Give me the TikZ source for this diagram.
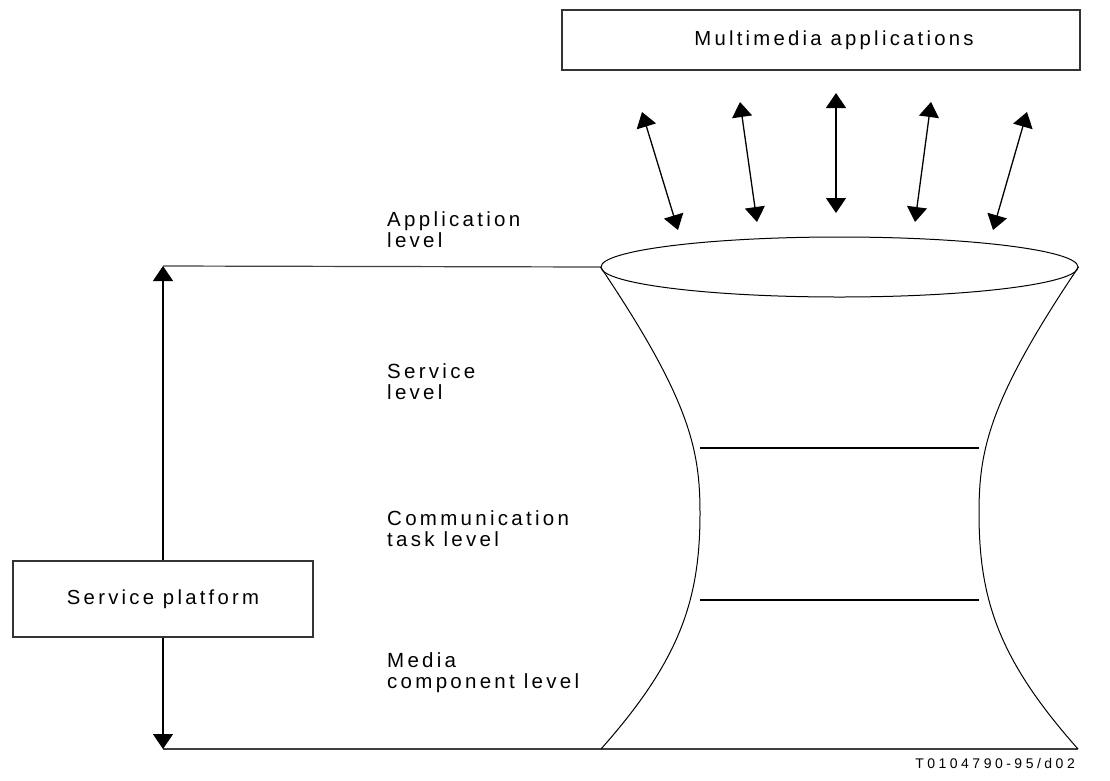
\documentclass[tikz,border=0pt]{standalone}
\usepackage{fontspec}
\setmainfont{Liberation Sans}[LetterSpace=16]
\newfontfamily\tagfont{Liberation Sans}[LetterSpace=25]
\usetikzlibrary{arrows.meta,shapes.geometric}
\begin{document}
\begin{tikzpicture}[x=1pt,y=-1pt,
  box/.style={draw=black!80,line width=1.2pt,inner sep=0pt,font=\fontsize{20.3}{22}\selectfont},
  lbl/.style={anchor=north west,inner sep=0pt,align=left,font=\fontsize{20.5}{21.5}\selectfont},
  dbl/.style={line width=1.3pt,{Triangle[length=15pt,width=20pt]}-{Triangle[length=15pt,width=20pt]}},
  thin/.style={draw=black!75,line width=1.2pt},
  side/.style={draw=black,line width=1pt},
  lev/.style={draw=black,line width=2pt}]
\useasboundingbox (0,0) rectangle (1110,780);
\fill[white] (0,0) rectangle (1110,780);
% boxes
\node[box,minimum width=518pt,minimum height=60pt] (mm) at (821,40) {\hspace*{26pt}Multimedia applications};
\node[box,minimum width=300pt,minimum height=76pt,fill=white] (sp) at (163,599) {Service platform};
% ellipse
\node[draw=black,line width=1pt,ellipse,minimum width=477pt,minimum height=60pt,inner sep=0pt] (el) at (839.5,267) {};
% coordinates
\coordinate (lt) at (163,266);
\coordinate (lb) at (163,749);
\coordinate (bl) at (601,749);
\coordinate (br) at (1078,749);
\coordinate (lw) at (700,513);
\coordinate (rw) at (979,513);
\coordinate (l1a) at (700,448); \coordinate (l1b) at (979,448);
\coordinate (l2a) at (700,600); \coordinate (l2b) at (979,600);
% horizontal lines
\draw[thin] (lt) -- (el.west);
\draw[thin] (lb) -- (br);
% hourglass sides
\draw[side] (el.west) .. controls (690,400) and (700,450) .. (lw)
  .. controls (700,600) and (680,660) .. (bl);
\draw[side] (el.east) .. controls (989,400) and (979,450) .. (rw)
  .. controls (979,600) and (999,660) .. (br);
\draw[lev] (l1a) -- (l1b);
\draw[lev] (l2a) -- (l2b);
% vertical arrow
\draw[line width=1.3pt,-{Triangle[length=15pt,width=20pt]}] (sp.north) -- (lt);
\draw[line width=1.3pt,-{Triangle[length=15pt,width=20pt]}] (sp.south) -- (lb);
% slanted arrows
\coordinate (a1t) at (642,112); \coordinate (a1b) at (678,230);
\coordinate (a2t) at (740,102); \coordinate (a2b) at (757,222);
\coordinate (a3t) at (836,93);  \coordinate (a3b) at (836,213);
\coordinate (a4t) at (931,102); \coordinate (a4b) at (915,222);
\coordinate (a5t) at (1027,112); \coordinate (a5b) at (993,230);
\draw[dbl] (a1t) -- (a1b);
\draw[dbl] (a2t) -- (a2b);
\draw[dbl] (a3t) -- (a3b);
\draw[dbl] (a4t) -- (a4b);
\draw[dbl] (a5t) -- (a5b);
% labels
\node[lbl] (t1) at (387,211) {Application\\level};
\node[lbl] (t2) at (387,363) {Service\\level};
\node[lbl] (t3) at (387,510) {Communication\\task level};
\node[lbl] (t4) at (387,652) {Media\\component level};
\node[anchor=base east,inner sep=0pt,font=\tagfont\fontsize{14}{16}\selectfont] (tag) at (1075,768) {T0104790-95/d02};
\end{tikzpicture}
\end{document}
